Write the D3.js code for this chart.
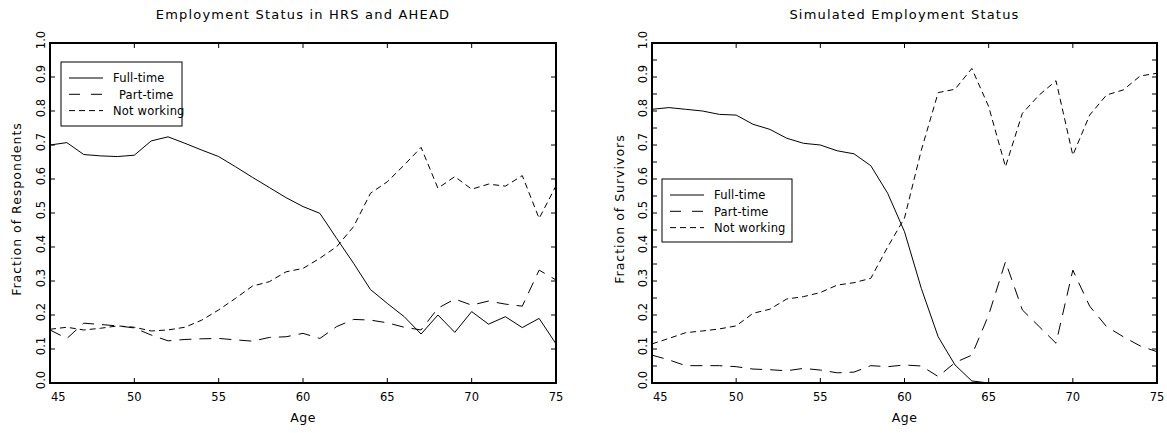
<!DOCTYPE html>
<html>
<head>
<meta charset="utf-8">
<script src="https://cdn.jsdelivr.net/npm/d3@7"></script>
<style>
  body { margin: 0; background: #fff; }
  svg text { font-family: "DejaVu Sans", sans-serif; fill: #000; }
</style>
</head>
<body>
<svg id="chart" width="1167" height="433"></svg>
<script>
// ages on the x axis
const ages = [45, 46, 47, 48, 49, 50, 51, 52, 53, 54, 55, 56, 57, 58, 59, 60,
  61, 62, 63, 64, 65, 66, 67, 68, 69, 70, 71, 72, 73, 74, 75];
const xTicks = [45, 50, 55, 60, 65, 70, 75];
const yTicks = [0, 0.1, 0.2, 0.3, 0.4, 0.5, 0.6, 0.7, 0.8, 0.9, 1.0];
const legendLabels = ['Full-time', 'Part-time', 'Not working'];

// HRS and AHEAD
const hrsFull = [0.700, 0.707, 0.672, 0.668, 0.666, 0.670, 0.712, 0.724, 0.705,
  0.685, 0.666, 0.636, 0.605, 0.575, 0.545, 0.519, 0.499, 0.425, 0.352, 0.275,
  0.234, 0.195, 0.144, 0.200, 0.149, 0.210, 0.173, 0.195, 0.163, 0.190, 0.115];
const hrsPart = [0.156, 0.131, 0.176, 0.172, 0.168, 0.162, 0.141, 0.124, 0.128,
  0.130, 0.131, 0.127, 0.123, 0.134, 0.136, 0.146, 0.131, 0.166, 0.187, 0.185,
  0.177, 0.164, 0.156, 0.220, 0.247, 0.229, 0.241, 0.232, 0.226, 0.332, 0.303];
const hrsNot = [0.158, 0.164, 0.156, 0.161, 0.168, 0.164, 0.153, 0.156, 0.164,
  0.185, 0.215, 0.249, 0.285, 0.298, 0.327, 0.337, 0.367, 0.401, 0.460, 0.558,
  0.592, 0.641, 0.693, 0.573, 0.607, 0.570, 0.585, 0.579, 0.610, 0.484, 0.580];

// simulated (full-time ends at 65)
const simFull = [0.805, 0.810, 0.805, 0.800, 0.790, 0.788, 0.761, 0.746, 0.720,
  0.705, 0.700, 0.683, 0.674, 0.639, 0.558, 0.445, 0.278, 0.136, 0.053, 0.006,
  0.000];
const simPart = [0.082, 0.068, 0.051, 0.051, 0.051, 0.048, 0.041, 0.039, 0.036,
  0.043, 0.038, 0.030, 0.032, 0.051, 0.048, 0.053, 0.050, 0.019, 0.060, 0.082,
  0.200, 0.357, 0.215, 0.166, 0.117, 0.332, 0.226, 0.166, 0.136, 0.109, 0.092];
const simNot = [0.115, 0.131, 0.148, 0.153, 0.159, 0.168, 0.205, 0.217, 0.247,
  0.254, 0.266, 0.288, 0.295, 0.308, 0.400, 0.485, 0.685, 0.854, 0.864, 0.925,
  0.813, 0.636, 0.793, 0.847, 0.889, 0.670, 0.788, 0.847, 0.862, 0.903, 0.911];

const dashes = [null, '12,8', '6,4'];
const svg = d3.select('#chart');

function drawPanel(cfg) {
  const x = d3.scaleLinear().domain([45, 75]).range([cfg.left, cfg.right]);
  const y = d3.scaleLinear().domain([0, 1]).range([383, 43]);
  const g = svg.append('g');
  const tick = 5;

  // ticks, inward on all four sides
  const ticksG = g.append('g').attr('stroke', '#000').attr('stroke-width', 1);
  xTicks.forEach((t) => {
    ticksG.append('line').attr('x1', x(t)).attr('x2', x(t))
        .attr('y1', y(0)).attr('y2', y(0) - tick);
    ticksG.append('line').attr('x1', x(t)).attr('x2', x(t))
        .attr('y1', y(1)).attr('y2', y(1) + tick);
  });
  const yt = cfg.minor ? d3.range(0, 1.001, 0.05) : yTicks;
  yt.forEach((t) => {
    ticksG.append('line').attr('x1', x(45)).attr('x2', x(45) + tick)
        .attr('y1', y(t)).attr('y2', y(t));
    ticksG.append('line').attr('x1', x(75)).attr('x2', x(75) - tick)
        .attr('y1', y(t)).attr('y2', y(t));
  });

  // series
  const line = d3.line().x((d, i) => x(ages[i])).y((d) => y(d));
  cfg.series.forEach((s, k) => {
    g.append('path')
        .attr('d', line(s))
        .attr('fill', 'none')
        .attr('stroke', '#000')
        .attr('stroke-width', 1)
        .attr('stroke-dasharray', dashes[k]);
  });

  // frame
  g.append('rect')
      .attr('x', x(45)).attr('y', y(1))
      .attr('width', x(75) - x(45)).attr('height', y(0) - y(1))
      .attr('fill', 'none').attr('stroke', '#000').attr('stroke-width', 2);

  // tick labels (first one starts at the axis so it clears 0.0)
  xTicks.forEach((t, i) => {
    g.append('text').attr('x', i === 0 ? x(t) + 1 : x(t)).attr('y', 400.5)
        .attr('text-anchor', i === 0 ? 'start' : 'middle')
        .attr('font-size', 11.5)
        .text(t);
  });
  yTicks.forEach((t) => {
    g.append('text')
        .attr('transform', `translate(${x(45) - 5},${y(t) - 3}) rotate(-90)`)
        .attr('text-anchor', 'middle').attr('font-size', 11.5)
        .text(d3.format('.1f')(t));
  });

  // titles
  g.append('text').attr('x', (x(45) + x(75)) / 2).attr('y', 19)
      .attr('text-anchor', 'middle').attr('font-size', 13)
      .attr('letter-spacing', 1.2)
      .text(cfg.title);
  g.append('text').attr('x', (x(45) + x(75)) / 2).attr('y', 422)
      .attr('text-anchor', 'middle').attr('font-size', 12.5)
      .attr('letter-spacing', 0.5)
      .text('Age');
  g.append('text')
      .attr('transform', `translate(${cfg.yTitleX},${y(0.5) - 4}) rotate(-90)`)
      .attr('text-anchor', 'middle').attr('font-size', 12.5)
      .attr('letter-spacing', 1)
      .text(cfg.yTitle);

  // legend
  const lg = cfg.legend;
  g.append('rect').attr('x', lg.x).attr('y', lg.y)
      .attr('width', lg.w).attr('height', lg.h)
      .attr('fill', '#fff').attr('stroke', '#000').attr('stroke-width', 1);
  legendLabels.forEach((lab, k) => {
    const ly = lg.y + 16 + k * 16.3;
    g.append('line').attr('x1', lg.x + 8).attr('x2', lg.x + 42)
        .attr('y1', ly).attr('y2', ly)
        .attr('stroke', '#000').attr('stroke-width', 1)
        .attr('stroke-dasharray', k === 1 ? '11,11' : dashes[k]);
    g.append('text').attr('x', lg.x + lg.tx + (k === 1 ? lg.pad : 0))
        .attr('y', ly + 4.4).attr('font-size', 11.5)
        .attr('letter-spacing', 0.2)
        .text(lab);
  });
}

drawPanel({
  left: 50, right: 556, minor: false,
  title: 'Employment Status in HRS and AHEAD',
  yTitle: 'Fraction of Respondents', yTitleX: 21,
  series: [hrsFull, hrsPart, hrsNot],
  legend: {x: 61, y: 62, w: 121, h: 64, tx: 52, pad: 6},
});
drawPanel({
  left: 652, right: 1157, minor: true,
  title: 'Simulated Employment Status',
  yTitle: 'Fraction of Survivors', yTitleX: 624,
  series: [simFull, simPart, simNot],
  legend: {x: 662, y: 179, w: 130, h: 63, tx: 52, pad: 0},
});
</script>
</body>
</html>
